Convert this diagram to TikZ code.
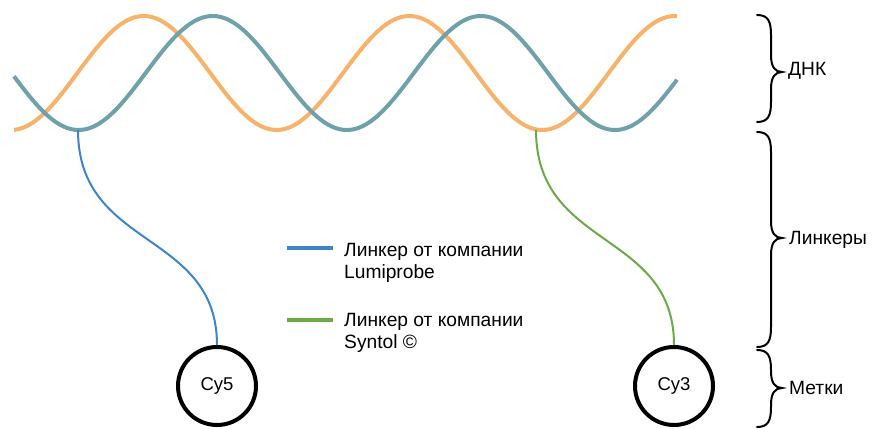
\documentclass[tikz,border=0pt]{standalone}
\usepackage{fontspec}
\setmainfont{Liberation Sans}
\definecolor{dnaorange}{RGB}{247,178,107}
\definecolor{dnateal}{RGB}{111,161,171}
\definecolor{lumiblue}{RGB}{61,133,200}
\definecolor{syntolgreen}{RGB}{106,170,72}
% right-facing curly brace: top y, tip y, bottom y
\newcommand\curlybrace[3]{%
  \draw[bracestroke] (757,#1) .. controls (768,#1) and (771,#1+6) .. (771,#1+20)
    -- (771,#2-17) .. controls (771,#2-5) and (775,#2) .. (782,#2)
    .. controls (775,#2) and (771,#2+5) .. (771,#2+17)
    -- (771,#3-20) .. controls (771,#3-6) and (768,#3) .. (757,#3);}
\begin{document}
\begin{tikzpicture}[x=1pt,y=-1pt,
  strandA/.style={line width=4pt,color=dnaorange},
  strandB/.style={line width=4pt,color=dnateal},
  linkerblue/.style={line width=2pt,color=lumiblue},
  linkergreen/.style={line width=2pt,color=syntolgreen},
  swatch/.style={line width=4.5pt},
  dye/.style={circle,draw=black,line width=4pt,minimum size=78pt,inner sep=0pt,
    font=\fontsize{18.5}{21}\selectfont},
  legendtext/.style={align=left,inner sep=0pt,anchor=base west,
    font=\fontsize{19.2}{21.6}\selectfont},
  sidelabel/.style={inner sep=0pt,anchor=west,font=\fontsize{19.2}{21.6}\selectfont},
  bracestroke/.style={line width=2pt,black,line cap=round}]
\useasboundingbox (0,0) rectangle (872,428);

% DNA double helix strands (phase in degrees per unit: 360/period)
\draw[strandA] plot[domain=14:677,samples=240,smooth]
  ({\x},{73+57*cos(1.355422*(\x-11))});
\draw[strandB] plot[domain=14:677,samples=240,smooth]
  ({\x},{73+57*cos(1.342282*(\x-78.6))});

% attachment points on the strands
\coordinate (attachB) at (78,130);
\coordinate (attachG) at (536,130);

% dye labels
\node[dye] (cy5) at (217,386) {Cy5};
\node[dye] (cy3) at (674,386) {Cy3};

% linkers
\draw[linkerblue] (attachB) .. controls +(0,120) and +(0,-115) .. (cy5.north);
\draw[linkergreen] (attachG) .. controls +(0,120) and +(0,-115) .. (cy3.north);

% legend (base anchor sits on the last line)
\draw[swatch,lumiblue] (287,248) -- (333,248);
\node[legendtext] (legB) at (344,278.3) {Линкер от компании\\Lumiprobe};
\draw[swatch,syntolgreen] (287,320) -- (333,320);
\node[legendtext] (legG) at (344,348.3) {Линкер от компании\\Syntol ©};

% braces with labels
\curlybrace{15}{72}{122}
\curlybrace{132}{238}{347}
\curlybrace{350}{388}{427}
\node[sidelabel] (lblDNA) at (788,71) {ДНК};
\node[sidelabel] (lblLink) at (789,240) {Линкеры};
\node[sidelabel] (lblTag) at (789,388) {Метки};
\end{tikzpicture}
\end{document}
